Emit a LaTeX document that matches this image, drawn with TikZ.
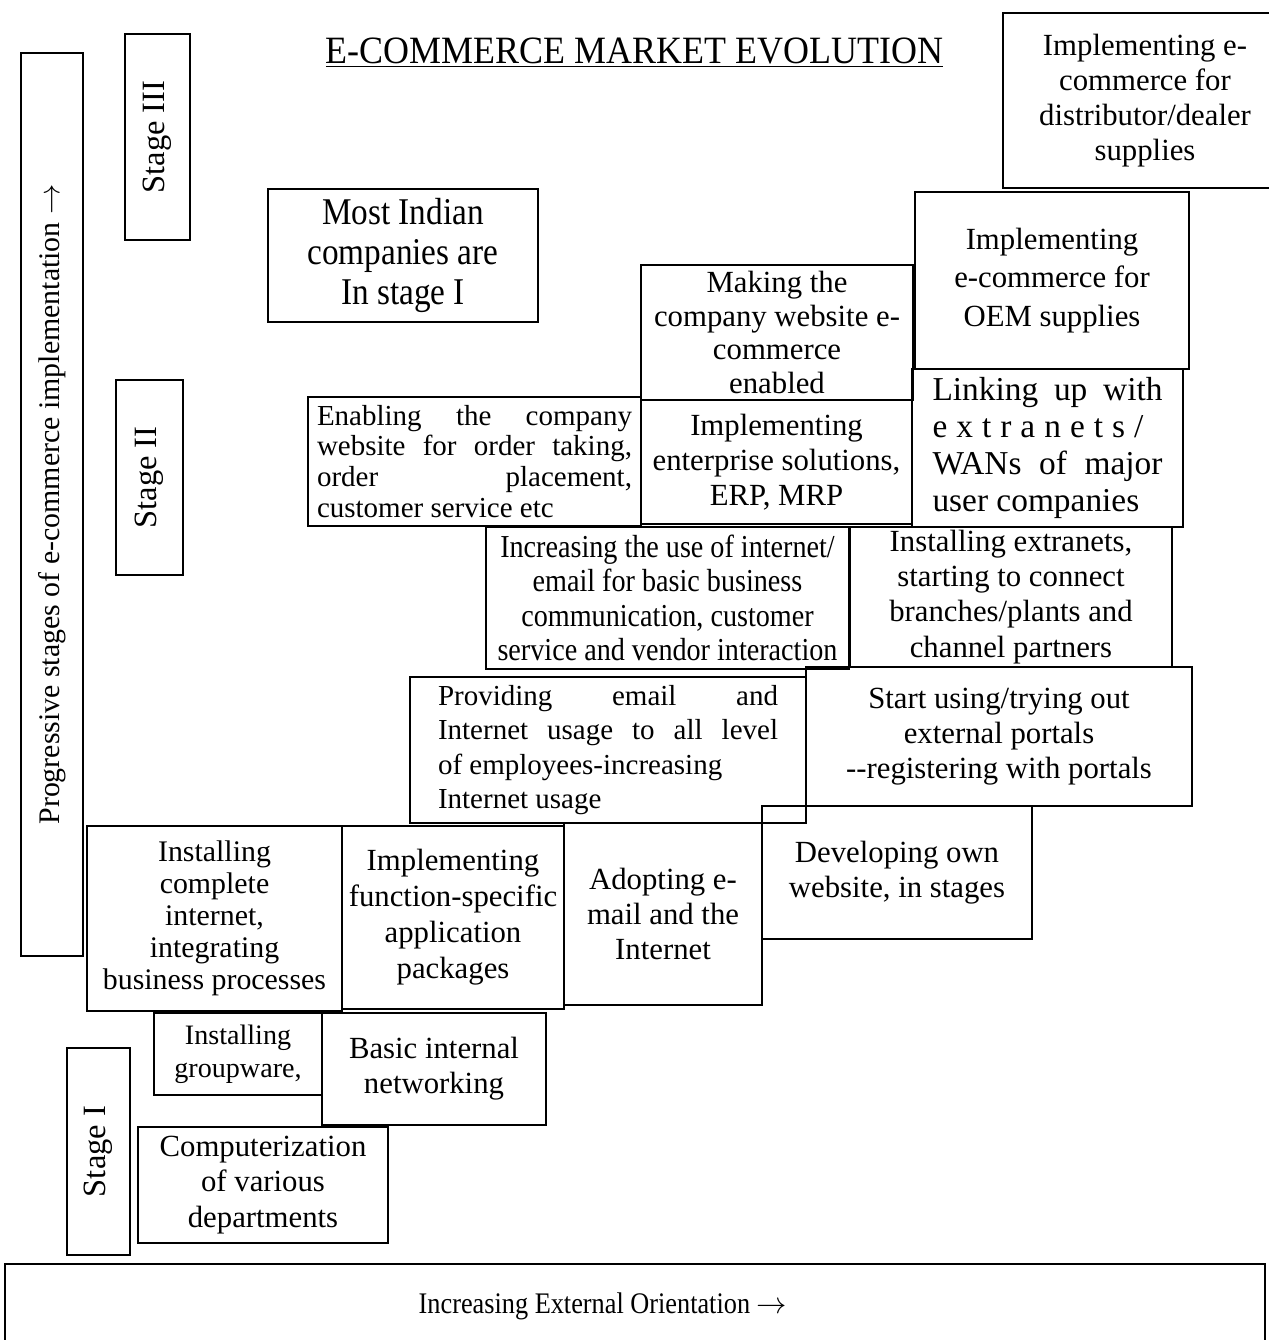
\documentclass[tikz,border=0pt]{standalone}
\usepackage{fontspec}
\setmainfont{Liberation Serif}

\begin{document}
\begin{tikzpicture}[
    box/.style={draw, line width=1.4pt, inner sep=0pt, align=center, font=\fontsize{17.5}{20}\selectfont},
    stagebox/.style={box, rotate=90, font=\fontsize{18.5}{22}\selectfont},
    narrow/.style 2 args={font=\fontsize{#1}{#2}\selectfont\addfontfeature{FakeStretch=0.88}},
  ]
    \useasboundingbox (0,0) rectangle (25.36,-26.8);

    % Title
    \node[font=\fontsize{22}{24}\selectfont\addfontfeature{FakeStretch=0.93}] (title) at (12.69,-1.06) {\underline{E-COMMERCE MARKET EVOLUTION}};

    % Vertical axis and stage labels
    \node[box, rotate=90, minimum width=18.06cm, minimum height=1.24cm, font=\fontsize{17}{20}\selectfont] (progress) at (1.04,-10.09) {Progressive stages of e-commerce implementation $\rightarrow$};
    \node[stagebox, minimum width=4.12cm, minimum height=1.30cm] (stage3) at (3.15,-2.74) {Stage III};
    \node[stagebox, minimum width=3.90cm, minimum height=1.34cm] (stage2) at (2.99,-9.55) {Stage II};
    \node[stagebox, minimum width=4.14cm, minimum height=1.26cm] (stage1) at (1.97,-23.03) {Stage I};

    % Stage I steps
    \node[box, minimum width=5.00cm, minimum height=2.32cm] (computer) at (5.26,-23.70) {Computerization\\of various\\departments};
    \node[box, minimum width=3.36cm, minimum height=1.64cm, font=\fontsize{16}{19}\selectfont] (groupware) at (4.76,-21.08) {Installing\\groupware,};
    \node[box, minimum width=4.48cm, minimum height=2.24cm] (lan) at (8.68,-21.38) {Basic internal\\networking};
    \node[box, minimum width=5.10cm, minimum height=3.70cm, font=\fontsize{17}{18.2}\selectfont] (intranet) at (4.29,-18.37) {Installing\\complete\\internet,\\integrating\\business processes};
    \node[box, minimum width=4.44cm, minimum height=3.66cm, font=\fontsize{17.5}{20.5}\selectfont] (packages) at (9.06,-18.35) {Implementing\\function-specific\\application\\packages};
    \node[box, minimum width=3.96cm, minimum height=3.64cm] (adopting) at (13.26,-18.28) {Adopting e-\\mail and the\\Internet};
    \node[box, minimum width=5.40cm, minimum height=2.66cm] (website) at (17.94,-17.45) {Developing own\\website, in stages};

    % Stage II steps
    \node[box, minimum width=7.92cm, minimum height=2.92cm, align=left, font=\fontsize{16.5}{19.5}\selectfont] (providing) at (12.16,-15.00) {\makebox[6.8cm][s]{Providing email and}\\\makebox[6.8cm][s]{Internet usage to all level}\\of employees-increasing\\Internet usage};
    \node[box, minimum width=7.72cm, minimum height=2.78cm] (portals) at (19.98,-14.73) {Start using/trying out\\external portals\\-{}-registering with portals};
    \node[box, narrow={18.2}{19.6}, minimum width=7.26cm, minimum height=2.84cm] (emailuse) at (13.35,-11.96) {Increasing the use of internet/\\email for basic business\\communication, customer\\service and vendor interaction};
    \node[box, minimum width=6.44cm, minimum height=2.80cm] (extranets) at (20.22,-11.94) {Installing extranets,\\starting to connect\\branches/plants and\\channel partners};
    \node[box, minimum width=6.66cm, minimum height=2.58cm, align=left, font=\fontsize{16.5}{17.6}\selectfont] (enabling) at (9.49,-9.23) {\makebox[6.3cm][s]{Enabling the company}\\\makebox[6.3cm][s]{website for order taking,}\\\makebox[6.3cm][s]{order placement,}\\customer service etc};
    \node[box, minimum width=5.42cm, minimum height=2.48cm] (erp) at (15.53,-9.24) {Implementing\\enterprise solutions,\\ERP, MRP};
    \node[box, minimum width=5.42cm, minimum height=3.16cm, align=left, font=\fontsize{19}{21}\selectfont] (linking) at (20.95,-8.96) {\makebox[4.6cm][s]{Linking up with}\\{\addfontfeature{LetterSpace=27}extranets/}\\\makebox[4.6cm][s]{WANs of major}\\user companies};
    \node[box, minimum width=5.44cm, minimum height=2.70cm, font=\fontsize{17.5}{19}\selectfont] (making) at (15.54,-6.65) {Making the\\company website e-\\commerce\\enabled};

    % Stage III steps
    \node[box, minimum width=5.48cm, minimum height=3.54cm, font=\fontsize{17.5}{22}\selectfont] (oem) at (21.04,-5.61) {Implementing\\e-commerce for\\OEM supplies};
    \node[box, narrow={21.5}{22.5}, minimum width=5.40cm, minimum height=2.66cm] (indian) at (8.06,-5.11) {Most Indian\\companies are\\In stage I};
    \node[box, minimum width=5.68cm, minimum height=3.50cm] (dealer) at (22.90,-2.01) {Implementing e-\\commerce for\\distributor/dealer\\supplies};

    % Horizontal axis
    \node[box, minimum width=25.2cm, minimum height=2.2cm] (axis) at (12.70,-26.38) {};
    \node[narrow={17}{19}, anchor=west] (orient) at (8.25,-26.12) {Increasing External Orientation $\rightarrow$};
  \end{tikzpicture}
\end{document}
